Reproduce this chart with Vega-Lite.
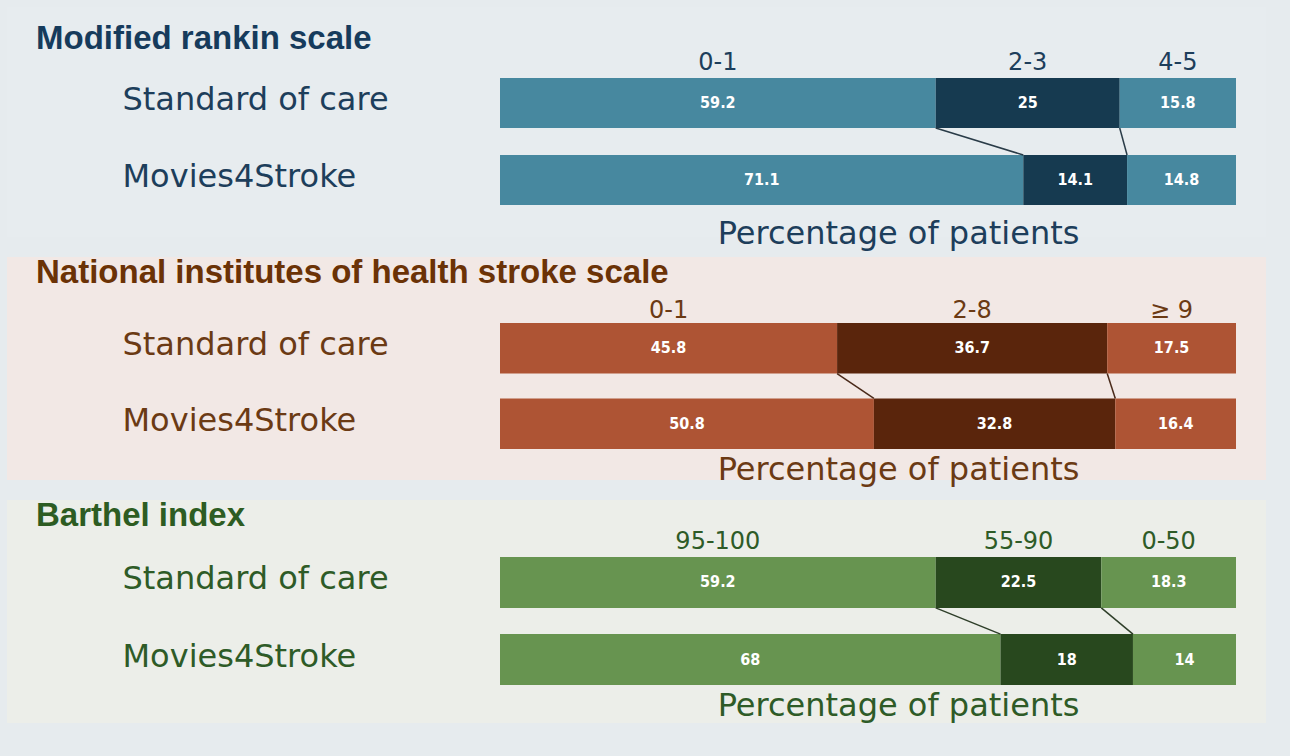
{
  "$schema": "https://vega.github.io/schema/vega-lite/v6.json",
  "background": "#e6ebee",
  "padding": {"left": 7, "top": 7, "right": 24, "bottom": 33},
  "config": {"view": {"stroke": null}},
  "data": {
    "values": [
      {"panel": "mrs", "group": "Standard of care", "cat": "0-1", "order": 1, "pct": 59.2},
      {"panel": "mrs", "group": "Standard of care", "cat": "2-3", "order": 2, "pct": 25},
      {"panel": "mrs", "group": "Standard of care", "cat": "4-5", "order": 3, "pct": 15.8},
      {"panel": "mrs", "group": "Movies4Stroke", "cat": "0-1", "order": 1, "pct": 71.1},
      {"panel": "mrs", "group": "Movies4Stroke", "cat": "2-3", "order": 2, "pct": 14.1},
      {"panel": "mrs", "group": "Movies4Stroke", "cat": "4-5", "order": 3, "pct": 14.8},
      {"panel": "nihss", "group": "Standard of care", "cat": "0-1", "order": 1, "pct": 45.8},
      {"panel": "nihss", "group": "Standard of care", "cat": "2-8", "order": 2, "pct": 36.7},
      {"panel": "nihss", "group": "Standard of care", "cat": "≥ 9", "order": 3, "pct": 17.5},
      {"panel": "nihss", "group": "Movies4Stroke", "cat": "0-1", "order": 1, "pct": 50.8},
      {"panel": "nihss", "group": "Movies4Stroke", "cat": "2-8", "order": 2, "pct": 32.8},
      {"panel": "nihss", "group": "Movies4Stroke", "cat": "≥ 9", "order": 3, "pct": 16.4},
      {"panel": "barthel", "group": "Standard of care", "cat": "95-100", "order": 1, "pct": 59.2},
      {"panel": "barthel", "group": "Standard of care", "cat": "55-90", "order": 2, "pct": 22.5},
      {"panel": "barthel", "group": "Standard of care", "cat": "0-50", "order": 3, "pct": 18.3},
      {"panel": "barthel", "group": "Movies4Stroke", "cat": "95-100", "order": 1, "pct": 68},
      {"panel": "barthel", "group": "Movies4Stroke", "cat": "55-90", "order": 2, "pct": 18},
      {"panel": "barthel", "group": "Movies4Stroke", "cat": "0-50", "order": 3, "pct": 14}
    ]
  },
  "vconcat": [
    {
      "width": 1259,
      "height": 230,
      "view": {"fill": "#e7ecef", "stroke": null},
      "title": {"text": "Modified rankin scale", "anchor": "start", "frame": "group", "orient": "top", "offset": -75, "baseline": "alphabetic", "dx": 29, "font": "Liberation Sans", "fontSize": 33, "fontWeight": "bold", "color": "#163b5c"},
      "transform": [{"filter": "datum.panel === 'mrs'"}],
      "encoding": {
        "y": {"field": "group", "type": "nominal", "sort": ["Standard of care", "Movies4Stroke"],
          "scale": {"domain": ["Standard of care", "Movies4Stroke"], "range": [71, 198], "paddingInner": 0.35, "paddingOuter": 0},
          "axis": {"title": null, "domain": false, "ticks": false, "tickSize": 0, "labelAlign": "left", "labelPadding": 0, "offset": -115, "labelLimit": 600, "labelFont": "DejaVu Sans", "labelFontSize": 32, "labelColor": "#1d3e5b", "labelBaseline": "middle", "labelOffset": -3}}
      },
      "layer": [
        {
          "mark": {"type": "bar"},
          "encoding": {
            "x": {"field": "pct", "type": "quantitative", "stack": "zero", "scale": {"domain": [0, 100], "range": [493, 1229]},
              "axis": {"orient": "bottom", "title": "Percentage of patients", "domain": false, "ticks": false, "labels": false, "grid": false, "titleFont": "DejaVu Sans", "titleFontSize": 32, "titleFontWeight": "normal", "titleColor": "#1d3e5b", "titleX": 891, "titleY": 6, "titleAlign": "center", "titleBaseline": "alphabetic"}},
            "order": {"field": "order", "type": "quantitative"},
            "detail": {"field": "order", "type": "quantitative"},
            "color": {"condition": {"test": "datum.order === 2", "value": "#163a50"}, "value": "#47889f"}
          }
        },
        {
          "transform": [
            {"stack": "pct", "groupby": ["group"], "sort": [{"field": "order"}], "as": ["x0", "x1"]},
            {"filter": "datum.order === 2"},
            {"fold": ["x0", "x1"], "as": ["edge", "xv"]},
            {"pivot": "group", "value": "xv", "groupby": ["edge"]}
          ],
          "mark": {"type": "rule", "color": "#2a3c48", "strokeWidth": 1.5},
          "encoding": {
            "x": {"field": "Standard of care", "type": "quantitative"},
            "x2": {"field": "Movies4Stroke"},
            "y": {"datum": "Standard of care", "type": "nominal", "bandPosition": 1},
            "y2": {"datum": "Movies4Stroke", "bandPosition": 0}
          }
        },
        {
          "mark": {"type": "text", "color": "white", "font": "'DejaVu Sans Condensed', Roboto, sans-serif", "fontWeight": "bold", "fontSize": 16, "baseline": "middle"},
          "encoding": {
            "x": {"field": "pct", "type": "quantitative", "stack": "zero", "bandPosition": 0.5},
            "order": {"field": "order", "type": "quantitative"},
            "detail": {"field": "order", "type": "quantitative"},
            "text": {"field": "pct", "type": "quantitative"}
          }
        },
        {
          "mark": {"type": "text", "color": "#1d3e5b", "font": "DejaVu Sans", "fontSize": 24, "baseline": "alphabetic", "dy": -8},
          "transform": [{"filter": "datum.group === 'Standard of care'"}],
          "encoding": {
            "x": {"field": "pct", "type": "quantitative", "stack": "zero", "bandPosition": 0.5},
            "y": {"field": "group", "type": "nominal", "bandPosition": 0},
            "order": {"field": "order", "type": "quantitative"},
            "detail": {"field": "order", "type": "quantitative"},
            "text": {"field": "cat", "type": "nominal"}
          }
        }
      ]
    },
    {
      "width": 1259,
      "height": 223,
      "view": {"fill": "#f2e8e5", "stroke": null},
      "title": {"text": "National institutes of health stroke scale", "anchor": "start", "frame": "group", "orient": "top", "offset": -59, "baseline": "alphabetic", "dx": 29, "font": "Liberation Sans", "fontSize": 33, "fontWeight": "bold", "color": "#6b3206"},
      "transform": [{"filter": "datum.panel === 'nihss'"}],
      "encoding": {
        "y": {"field": "group", "type": "nominal", "sort": ["Standard of care", "Movies4Stroke"],
          "scale": {"domain": ["Standard of care", "Movies4Stroke"], "range": [66, 192], "paddingInner": 0.33, "paddingOuter": 0},
          "axis": {"title": null, "domain": false, "ticks": false, "tickSize": 0, "labelAlign": "left", "labelPadding": 0, "offset": -115, "labelLimit": 600, "labelFont": "DejaVu Sans", "labelFontSize": 32, "labelColor": "#6b3a14", "labelBaseline": "middle", "labelOffset": -3}}
      },
      "layer": [
        {
          "mark": {"type": "bar"},
          "encoding": {
            "x": {"field": "pct", "type": "quantitative", "stack": "zero", "scale": {"domain": [0, 100], "range": [493, 1229]},
              "axis": {"orient": "bottom", "title": "Percentage of patients", "domain": false, "ticks": false, "labels": false, "grid": false, "titleFont": "DejaVu Sans", "titleFontSize": 32, "titleFontWeight": "normal", "titleColor": "#6b3a14", "titleX": 891, "titleY": -1, "titleAlign": "center", "titleBaseline": "alphabetic"}},
            "order": {"field": "order", "type": "quantitative"},
            "detail": {"field": "order", "type": "quantitative"},
            "color": {"condition": {"test": "datum.order === 2", "value": "#5a250c"}, "value": "#ae5434"}
          }
        },
        {
          "transform": [
            {"stack": "pct", "groupby": ["group"], "sort": [{"field": "order"}], "as": ["x0", "x1"]},
            {"filter": "datum.order === 2"},
            {"fold": ["x0", "x1"], "as": ["edge", "xv"]},
            {"pivot": "group", "value": "xv", "groupby": ["edge"]}
          ],
          "mark": {"type": "rule", "color": "#4a2a1a", "strokeWidth": 1.5},
          "encoding": {
            "x": {"field": "Standard of care", "type": "quantitative"},
            "x2": {"field": "Movies4Stroke"},
            "y": {"datum": "Standard of care", "type": "nominal", "bandPosition": 1},
            "y2": {"datum": "Movies4Stroke", "bandPosition": 0}
          }
        },
        {
          "mark": {"type": "text", "color": "white", "font": "'DejaVu Sans Condensed', Roboto, sans-serif", "fontWeight": "bold", "fontSize": 16, "baseline": "middle"},
          "encoding": {
            "x": {"field": "pct", "type": "quantitative", "stack": "zero", "bandPosition": 0.5},
            "order": {"field": "order", "type": "quantitative"},
            "detail": {"field": "order", "type": "quantitative"},
            "text": {"field": "pct", "type": "quantitative"}
          }
        },
        {
          "mark": {"type": "text", "color": "#6b3a14", "font": "DejaVu Sans", "fontSize": 24, "baseline": "alphabetic", "dy": -5},
          "transform": [{"filter": "datum.group === 'Standard of care'"}],
          "encoding": {
            "x": {"field": "pct", "type": "quantitative", "stack": "zero", "bandPosition": 0.5},
            "y": {"field": "group", "type": "nominal", "bandPosition": 0},
            "order": {"field": "order", "type": "quantitative"},
            "detail": {"field": "order", "type": "quantitative"},
            "text": {"field": "cat", "type": "nominal"}
          }
        }
      ]
    },
    {
      "width": 1259,
      "height": 223,
      "view": {"fill": "#eceee9", "stroke": null},
      "title": {"text": "Barthel index", "anchor": "start", "frame": "group", "orient": "top", "offset": -59, "baseline": "alphabetic", "dx": 29, "font": "Liberation Sans", "fontSize": 33, "fontWeight": "bold", "color": "#2d5c22"},
      "transform": [{"filter": "datum.panel === 'barthel'"}],
      "encoding": {
        "y": {"field": "group", "type": "nominal", "sort": ["Standard of care", "Movies4Stroke"],
          "scale": {"domain": ["Standard of care", "Movies4Stroke"], "range": [57, 185], "paddingInner": 0.34, "paddingOuter": 0},
          "axis": {"title": null, "domain": false, "ticks": false, "tickSize": 0, "labelAlign": "left", "labelPadding": 0, "offset": -115, "labelLimit": 600, "labelFont": "DejaVu Sans", "labelFontSize": 32, "labelColor": "#2e5b27", "labelBaseline": "middle", "labelOffset": -3}}
      },
      "layer": [
        {
          "mark": {"type": "bar"},
          "encoding": {
            "x": {"field": "pct", "type": "quantitative", "stack": "zero", "scale": {"domain": [0, 100], "range": [493, 1229]},
              "axis": {"orient": "bottom", "title": "Percentage of patients", "domain": false, "ticks": false, "labels": false, "grid": false, "titleFont": "DejaVu Sans", "titleFontSize": 32, "titleFontWeight": "normal", "titleColor": "#2e5b27", "titleX": 891, "titleY": -8, "titleAlign": "center", "titleBaseline": "alphabetic"}},
            "order": {"field": "order", "type": "quantitative"},
            "detail": {"field": "order", "type": "quantitative"},
            "color": {"condition": {"test": "datum.order === 2", "value": "#28481e"}, "value": "#679450"}
          }
        },
        {
          "transform": [
            {"stack": "pct", "groupby": ["group"], "sort": [{"field": "order"}], "as": ["x0", "x1"]},
            {"filter": "datum.order === 2"},
            {"fold": ["x0", "x1"], "as": ["edge", "xv"]},
            {"pivot": "group", "value": "xv", "groupby": ["edge"]}
          ],
          "mark": {"type": "rule", "color": "#2f3f2a", "strokeWidth": 1.5},
          "encoding": {
            "x": {"field": "Standard of care", "type": "quantitative"},
            "x2": {"field": "Movies4Stroke"},
            "y": {"datum": "Standard of care", "type": "nominal", "bandPosition": 1},
            "y2": {"datum": "Movies4Stroke", "bandPosition": 0}
          }
        },
        {
          "mark": {"type": "text", "color": "white", "font": "'DejaVu Sans Condensed', Roboto, sans-serif", "fontWeight": "bold", "fontSize": 16, "baseline": "middle"},
          "encoding": {
            "x": {"field": "pct", "type": "quantitative", "stack": "zero", "bandPosition": 0.5},
            "order": {"field": "order", "type": "quantitative"},
            "detail": {"field": "order", "type": "quantitative"},
            "text": {"field": "pct", "type": "quantitative"}
          }
        },
        {
          "mark": {"type": "text", "color": "#2e5b27", "font": "DejaVu Sans", "fontSize": 24, "baseline": "alphabetic", "dy": -8},
          "transform": [{"filter": "datum.group === 'Standard of care'"}],
          "encoding": {
            "x": {"field": "pct", "type": "quantitative", "stack": "zero", "bandPosition": 0.5},
            "y": {"field": "group", "type": "nominal", "bandPosition": 0},
            "order": {"field": "order", "type": "quantitative"},
            "detail": {"field": "order", "type": "quantitative"},
            "text": {"field": "cat", "type": "nominal"}
          }
        }
      ]
    }
  ],
  "spacing": 20,
  "bounds": "flush"
}
